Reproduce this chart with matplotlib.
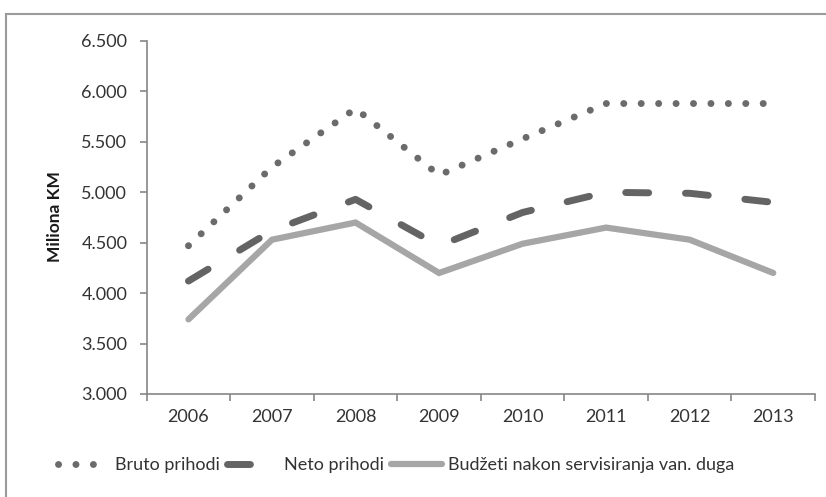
import matplotlib.pyplot as plt
from matplotlib.patches import Rectangle

godine = ["2006", "2007", "2008", "2009", "2010", "2011", "2012", "2013"]
bruto_prihodi = [4470, 5250, 5830, 5170, 5530, 5880, 5880, 5880]
neto_prihodi = [4120, 4620, 4930, 4470, 4800, 5000, 4990, 4900]
budzeti = [3740, 4530, 4700, 4200, 4490, 4650, 4530, 4200]
y_tickovi = [3000, 3500, 4000, 4500, 5000, 5500, 6000, 6500]

plt.rcParams["font.family"] = ["Lato", "DejaVu Sans"]

fig = plt.figure(figsize=(8.26, 4.97), dpi=100)
ax = fig.add_axes([146.7 / 826, 1 - 394 / 497, (815 - 146.7) / 826, (394 - 41) / 497])

x = list(range(len(godine)))
ax.plot(x, bruto_prihodi, color="#6b6b6b", lw=5, linestyle=(0, (0.01, 2.5)),
        dash_capstyle="round", label="Bruto prihodi")
ax.plot(x, neto_prihodi, color="#646464", lw=5, linestyle=(0, (3.3, 5.3)),
        dash_capstyle="round", label="Neto prihodi")
ax.plot(x, budzeti, color="#a6a6a6", lw=4.5, solid_capstyle="round",
        solid_joinstyle="miter", label="Budžeti nakon servisiranja van. duga")

ax.set_xlim(-0.5, len(godine) - 0.5)
ax.set_ylim(3000, 6500)
ax.set_yticks(y_tickovi)
ax.set_yticklabels([f"{v:,}".replace(",", ".") for v in y_tickovi])
ax.set_xticks(x)
ax.set_xticklabels(godine)
ax.set_xticks([i - 0.5 for i in range(len(godine) + 1)], minor=True)
ax.tick_params(axis="x", which="major", length=0, pad=11, labelsize=13, colors="#333333")
ax.tick_params(axis="x", which="minor", length=5, color="#868686", width=1.2)
ax.tick_params(axis="y", length=5, color="#868686", width=1.2, pad=9, labelsize=13,
               labelcolor="#333333")

for s in ["top", "right"]:
    ax.spines[s].set_visible(False)
for s in ["left", "bottom"]:
    ax.spines[s].set_color("#868686")
    ax.spines[s].set_linewidth(1.2)

fig.text(55 / 826, 1 - 217 / 497, "Miliona KM", rotation=90, ha="center", va="center",
         fontsize=12.5, fontweight="bold", color="#1a1a1a")

fig.legend(loc="center", bbox_to_anchor=(0.48, 32 / 497), ncol=3, frameon=False,
           fontsize=13, handlelength=2.8, columnspacing=0.4, handletextpad=0.35,
           labelcolor="#333333")

fig.patches.append(Rectangle((6 / 826, -0.2), 2, 1.2 - 14 / 497, transform=fig.transFigure,
                             fill=False, edgecolor="#9a9a9a", lw=1.5))

fig.savefig("out.png", dpi=100)
